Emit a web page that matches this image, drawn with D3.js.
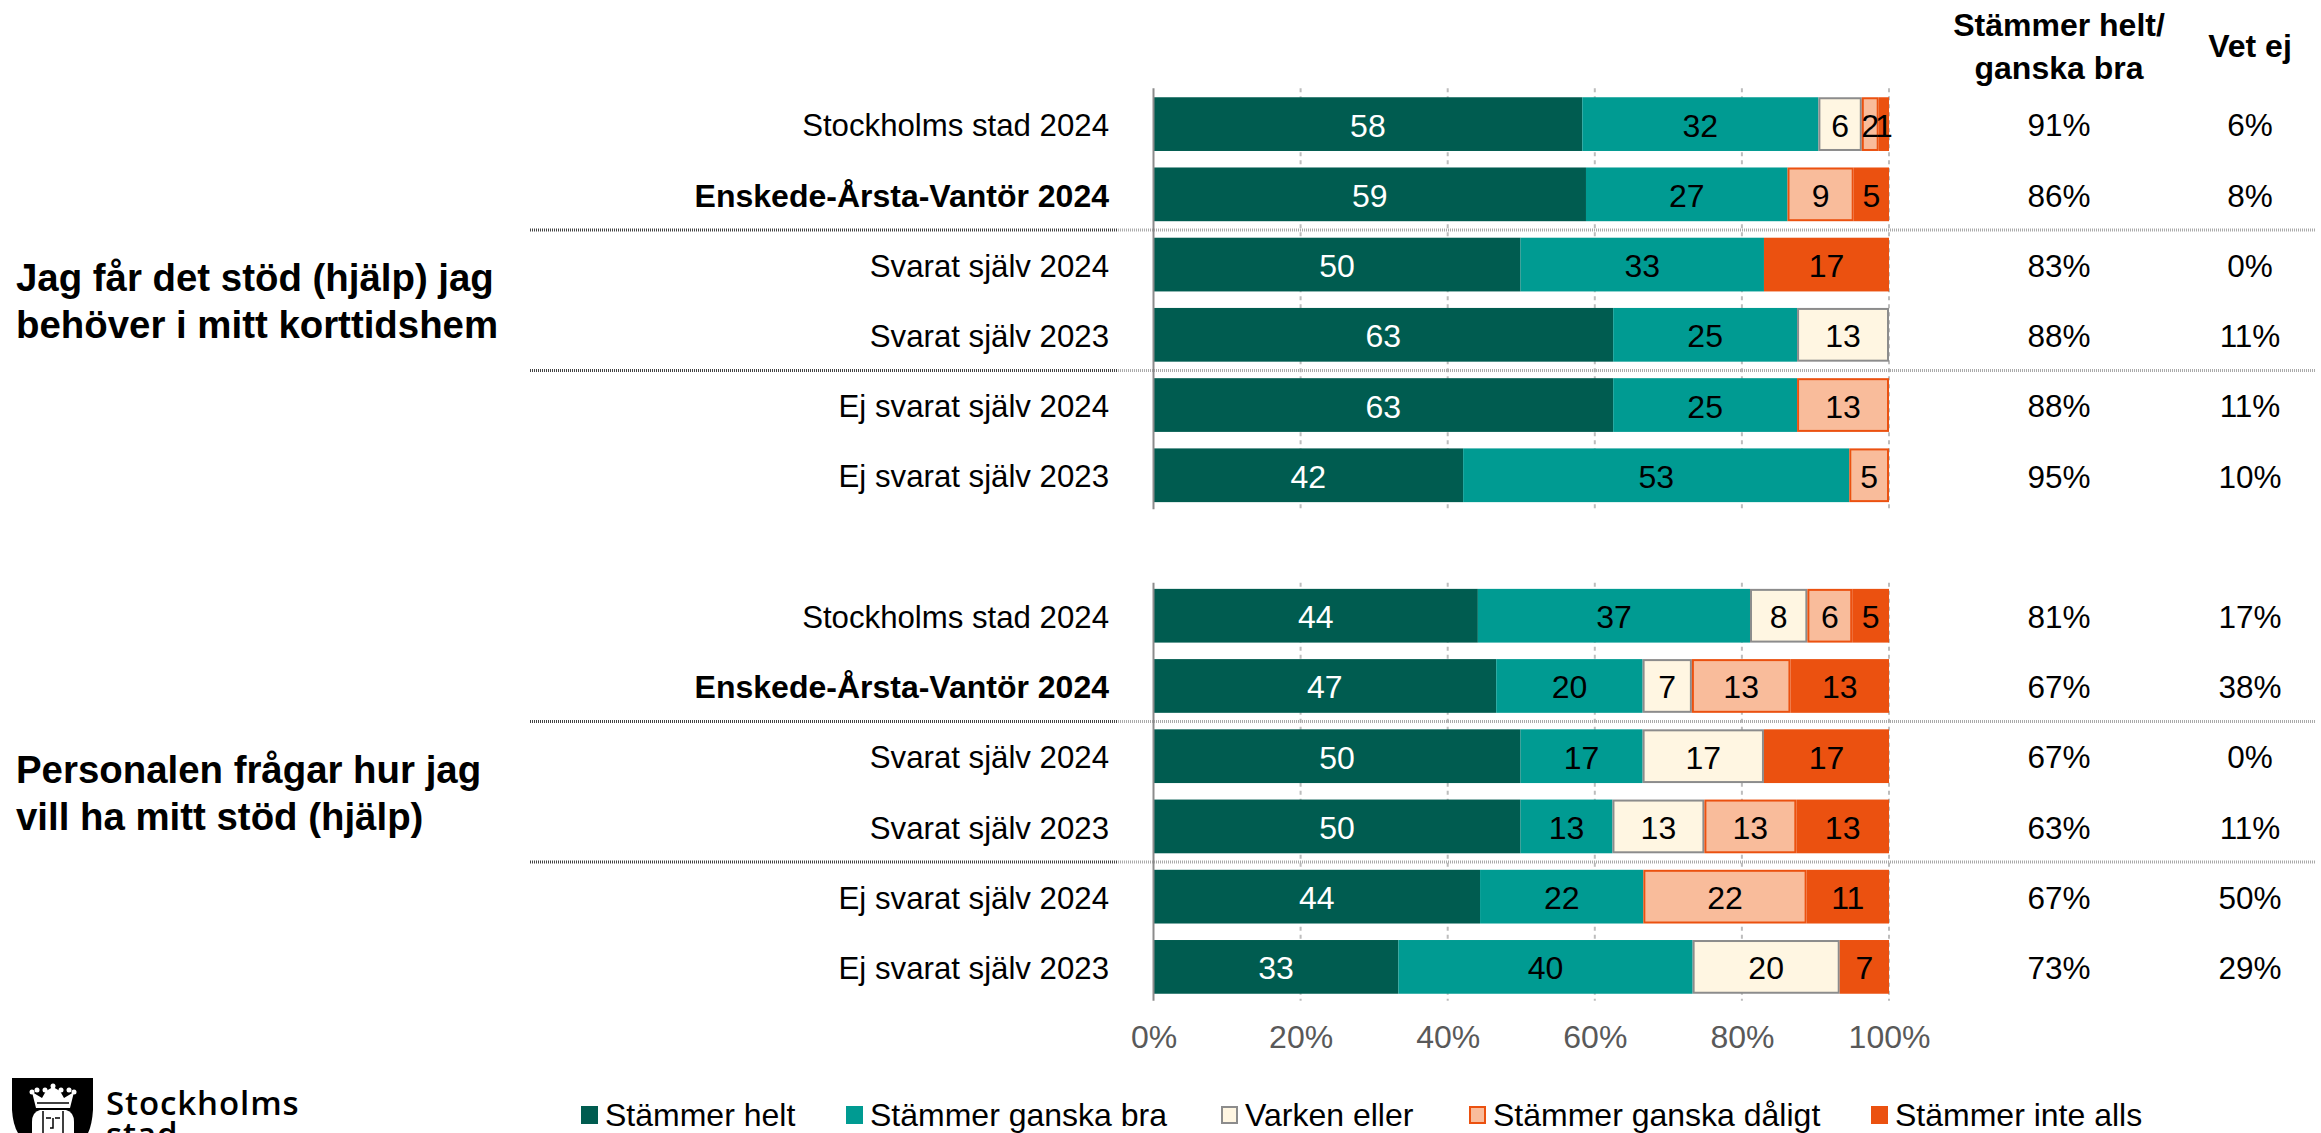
<!DOCTYPE html>
<html>
<head>
<meta charset="utf-8">
<script src="https://cdn.jsdelivr.net/npm/d3@7"></script>
<style>
  html, body { margin: 0; padding: 0; background: #fff; overflow: hidden; }
  text { font-family: "Liberation Sans", Arial, sans-serif; }
</style>
</head>
<body>
<svg id="chart"></svg>
<script>
var rowLabels = [
  "Stockholms stad 2024", "Enskede-Årsta-Vantör 2024", "Svarat själv 2024", "Svarat själv 2023", "Ej svarat själv 2024", "Ej svarat själv 2023",
  "",
  "Stockholms stad 2024", "Enskede-Årsta-Vantör 2024", "Svarat själv 2024", "Svarat själv 2023", "Ej svarat själv 2024", "Ej svarat själv 2023"
];
var seriesNames = ["Stämmer helt", "Stämmer ganska bra", "Varken eller", "Stämmer ganska dåligt", "Stämmer inte alls"];
var helt =     [58.3, 58.8, 49.9, 62.5, 62.5, 42.1, 0, 44.1, 46.6, 49.9, 49.9, 44.4, 33.3];
var ganskaBra = [32.1, 27.4, 33.1, 25, 25, 52.5, 0, 37, 19.9, 16.6, 12.5, 22.2, 40];
var varken =   [5.9, 0, 0, 12.5, 0, 0, 0, 7.8, 6.7, 16.5, 12.5, 0, 20];
var daligt =   [2.3, 9, 0, 0, 12.5, 5.4, 0, 6.1, 13.4, 0, 12.5, 22.2, 0];
var inteAlls = [1.4, 4.8, 17, 0, 0, 0, 0, 5, 13.4, 17, 12.6, 11.2, 6.7];
var helGanska = ["91%", "86%", "83%", "88%", "88%", "95%", "", "81%", "67%", "67%", "63%", "67%", "73%"];
var vetEj =    ["6%", "8%", "0%", "11%", "11%", "10%", "", "17%", "38%", "0%", "11%", "50%", "29%"];
var xTicks = [0, 20, 40, 60, 80, 100];
var questions = [
  ["Jag får det stöd (hjälp) jag", "behöver i mitt korttidshem"],
  ["Personalen frågar hur jag", "vill ha mitt stöd (hjälp)"]
];

var fills =   ["#005c50", "#009b92", "#fff6e2", "#f9bc9b", "#eb5110"];
var strokes = ["none", "none", "#8c8c8c", "#eb5110", "none"];
var labelColors = ["#fff", "#000", "#000", "#000", "#000"];
var seriesValues = [helt, ganskaBra, varken, daligt, inteAlls];

var width = 2321, height = 1133;
var svg = d3.select("#chart").attr("width", width).attr("height", height);

var x = d3.scaleLinear().domain([0, 100]).range([1153.5, 1889]);
var y = d3.scaleBand().domain(d3.range(rowLabels.length)).range([89, 1002]).paddingInner(0.235).paddingOuter(0.1175);

// the picture is really two charts: first row, last row, how far the axis sticks out on top
var panels = [[0, 5, 9], [7, 12, 6]];
var panelTop = function(p) { return y(p[0]) - p[2]; };
var panelBottom = function(p) { return y(p[1]) + y.bandwidth() + 7; };

// gridlines sit behind the bars
panels.forEach(function(p) {
  svg.append("g").selectAll("line")
    .data(xTicks.slice(1))
    .enter().append("line")
      .attr("x1", function(d) { return x(d); })
      .attr("x2", function(d) { return x(d); })
      .attr("y1", panelTop(p))
      .attr("y2", panelBottom(p))
      .attr("stroke", "#bdbdbd")
      .attr("stroke-width", 2)
      .attr("stroke-dasharray", "4 4");
});

// separators between the groups of rows
var separatorRows = [2, 4, 9, 11];
var sepY = function(i) { return y(i) - y.step() * y.paddingInner() / 2 + 0.5; };
var seps = svg.append("g");
seps.selectAll(".dark")
  .data(separatorRows)
  .enter().append("line")
    .attr("class", "dark")
    .attr("x1", 530).attr("x2", 1118)
    .attr("y1", sepY).attr("y2", sepY)
    .attr("stroke", "#444").attr("stroke-width", 3).attr("stroke-dasharray", "1 1");
seps.selectAll(".light")
  .data(separatorRows)
  .enter().append("line")
    .attr("class", "light")
    .attr("x1", 1118).attr("x2", 2316)
    .attr("y1", sepY).attr("y2", sepY)
    .attr("stroke", "#aaa").attr("stroke-width", 3).attr("stroke-dasharray", "1 1");

// stacked bars
var stackData = rowLabels.map(function(label, i) {
  var row = { row: i };
  seriesNames.forEach(function(name, s) { row[name] = seriesValues[s][i]; });
  return row;
});
var layers = d3.stack().keys(seriesNames)(stackData);

var layer = svg.append("g").selectAll("g")
  .data(layers)
  .enter().append("g");

var segments = function(d, s) {
  return d.map(function(p) { return { s: s, p: p, value: seriesValues[s][p.data.row] }; })
    .filter(function(e) { return e.value > 0; });
};

layer.selectAll("rect")
  .data(segments)
  .enter().append("rect")
    .attr("x", function(d) { return x(d.p[0]) + (strokes[d.s] === "none" ? 0 : 1); })
    .attr("width", function(d) { return x(d.p[1]) - x(d.p[0]) - (strokes[d.s] === "none" ? 0 : 2); })
    .attr("y", function(d) { return y(d.p.data.row) + (strokes[d.s] === "none" ? 0 : 1); })
    .attr("height", function(d) { return y.bandwidth() - (strokes[d.s] === "none" ? 0 : 2); })
    .attr("fill", function(d) { return fills[d.s]; })
    .attr("stroke", function(d) { return strokes[d.s]; })
    .attr("stroke-width", 2);

layer.selectAll("text")
  .data(segments)
  .enter().append("text")
    .attr("x", function(d) { return x((d.p[0] + d.p[1]) / 2); })
    .attr("y", function(d) { return y(d.p.data.row) + y.bandwidth() / 2; })
    .attr("dy", ".39em")
    .attr("text-anchor", "middle")
    .attr("font-size", 32)
    .attr("fill", function(d) { return labelColors[d.s]; })
    .text(function(d) { return d3.format(".0f")(d.value); });

// left axis lines
svg.append("g").selectAll("line")
  .data(panels)
  .enter().append("line")
    .attr("x1", x(0)).attr("x2", x(0))
    .attr("y1", panelTop)
    .attr("y2", panelBottom)
    .attr("stroke", "#8c8c8c").attr("stroke-width", 2);

// x axis labels
var xAxis = d3.axisBottom(x).tickValues(xTicks).tickSize(0).tickPadding(0).tickFormat(function(d) { return d + "%"; });
var xg = svg.append("g").attr("transform", "translate(0,1025)").call(xAxis);
xg.select(".domain").remove();
xg.selectAll("text").attr("font-size", 32).attr("font-family", null).attr("fill", "#595959");

// row labels
svg.append("g").selectAll("text")
  .data(rowLabels)
  .enter().append("text")
    .attr("x", 1109)
    .attr("y", function(d, i) { return y(i) + y.bandwidth() / 2; })
    .attr("dy", ".39em")
    .attr("text-anchor", "end")
    .attr("font-size", function(d) { return d.indexOf("Enskede") === 0 ? 32 : 31.2; })
    .attr("font-weight", function(d) { return d.indexOf("Enskede") === 0 ? "bold" : "normal"; })
    .text(function(d) { return d; });

// right hand columns
[[2059, helGanska], [2250, vetEj]].forEach(function(col) {
  svg.append("g").selectAll("text")
    .data(col[1])
    .enter().append("text")
      .attr("x", col[0])
      .attr("y", function(d, i) { return y(i) + y.bandwidth() / 2; })
      .attr("dy", ".39em")
      .attr("text-anchor", "middle")
      .attr("font-size", 31.5)
      .text(function(d) { return d; });
});

var headers = [[2059, 24, "Stämmer helt/"], [2059, 67, "ganska bra"], [2250, 45, "Vet ej"]];
svg.append("g").selectAll("text")
  .data(headers)
  .enter().append("text")
    .attr("x", function(d) { return d[0]; })
    .attr("y", function(d) { return d[1]; })
    .attr("dy", ".36em")
    .attr("text-anchor", "middle")
    .attr("font-size", 32)
    .attr("font-weight", "bold")
    .text(function(d) { return d[2]; });

// question titles
var titleRows = [[277, 324], [769, 816]];
questions.forEach(function(q, i) {
  svg.append("g").selectAll("text")
    .data(q)
    .enter().append("text")
      .attr("x", 16)
      .attr("y", function(d, j) { return titleRows[i][j]; })
      .attr("dy", ".36em")
      .attr("font-size", 38.4)
      .attr("font-weight", "bold")
      .text(function(d) { return d; });
});

// legend
var legendX = [581, 846, 1221, 1469, 1871];
var legend = svg.append("g").selectAll("g")
  .data(seriesNames)
  .enter().append("g")
    .attr("transform", function(d, i) { return "translate(" + legendX[i] + ",1115)"; });
legend.append("rect")
  .attr("x", function(d, i) { return strokes[i] === "none" ? 0 : 1; })
  .attr("y", function(d, i) { return strokes[i] === "none" ? -9 : -8; })
  .attr("width", function(d, i) { return strokes[i] === "none" ? 17 : 15; })
  .attr("height", function(d, i) { return strokes[i] === "none" ? 18 : 16; })
  .attr("fill", function(d, i) { return fills[i]; })
  .attr("stroke", function(d, i) { return strokes[i]; })
  .attr("stroke-width", 2);
legend.append("text")
  .attr("x", 24)
  .attr("dy", ".33em")
  .attr("font-size", 32)
  .text(function(d) { return d; });

// logo, cut off by the bottom of the picture
var logo = svg.append("g");
logo.append("path")
  .attr("d", "M12,1078H93V1110Q92,1125 88,1133H18Q13,1125 12,1110Z")
  .attr("fill", "#000");
// hair and face
logo.append("path")
  .attr("d", "M32,1133V1122Q32,1112 40,1110H66Q74,1112 74,1122V1133Z")
  .attr("fill", "#fff");
logo.append("path")
  .attr("d", "M43,1111V1133M63,1111V1133M46,1118H51M55,1118H60M53,1118V1128H50")
  .attr("fill", "none").attr("stroke", "#000").attr("stroke-width", 1.5);
// crown
logo.append("path")
  .attr("d", "M36,1108L32,1092L42,1098L46,1091L53,1087L60,1091L64,1098L74,1092L70,1108Z")
  .attr("fill", "#fff");
logo.append("path")
  .attr("d", "M37,1103H69")
  .attr("stroke", "#000").attr("stroke-width", 1.5);
logo.append("g").selectAll("circle")
  .data([[32, 1092], [37, 1090], [45, 1090], [53, 1086], [61, 1090], [69, 1090], [74, 1092]])
  .enter().append("circle")
    .attr("cx", function(d) { return d[0]; })
    .attr("cy", function(d) { return d[1]; })
    .attr("r", 2.5)
    .attr("fill", "#fff");
logo.append("text")
  .attr("x", 106).attr("y", 1115)
  .attr("font-size", 33)
  .attr("letter-spacing", 0.9)
  .style("font-family", "'Open Sans', sans-serif")
  .attr("font-weight", 600)
  .text("Stockholms");
logo.append("text")
  .attr("x", 106).attr("y", 1146)
  .attr("font-size", 33)
  .attr("letter-spacing", 0.9)
  .style("font-family", "'Open Sans', sans-serif")
  .attr("font-weight", 600)
  .text("stad");
</script>
</body>
</html>
